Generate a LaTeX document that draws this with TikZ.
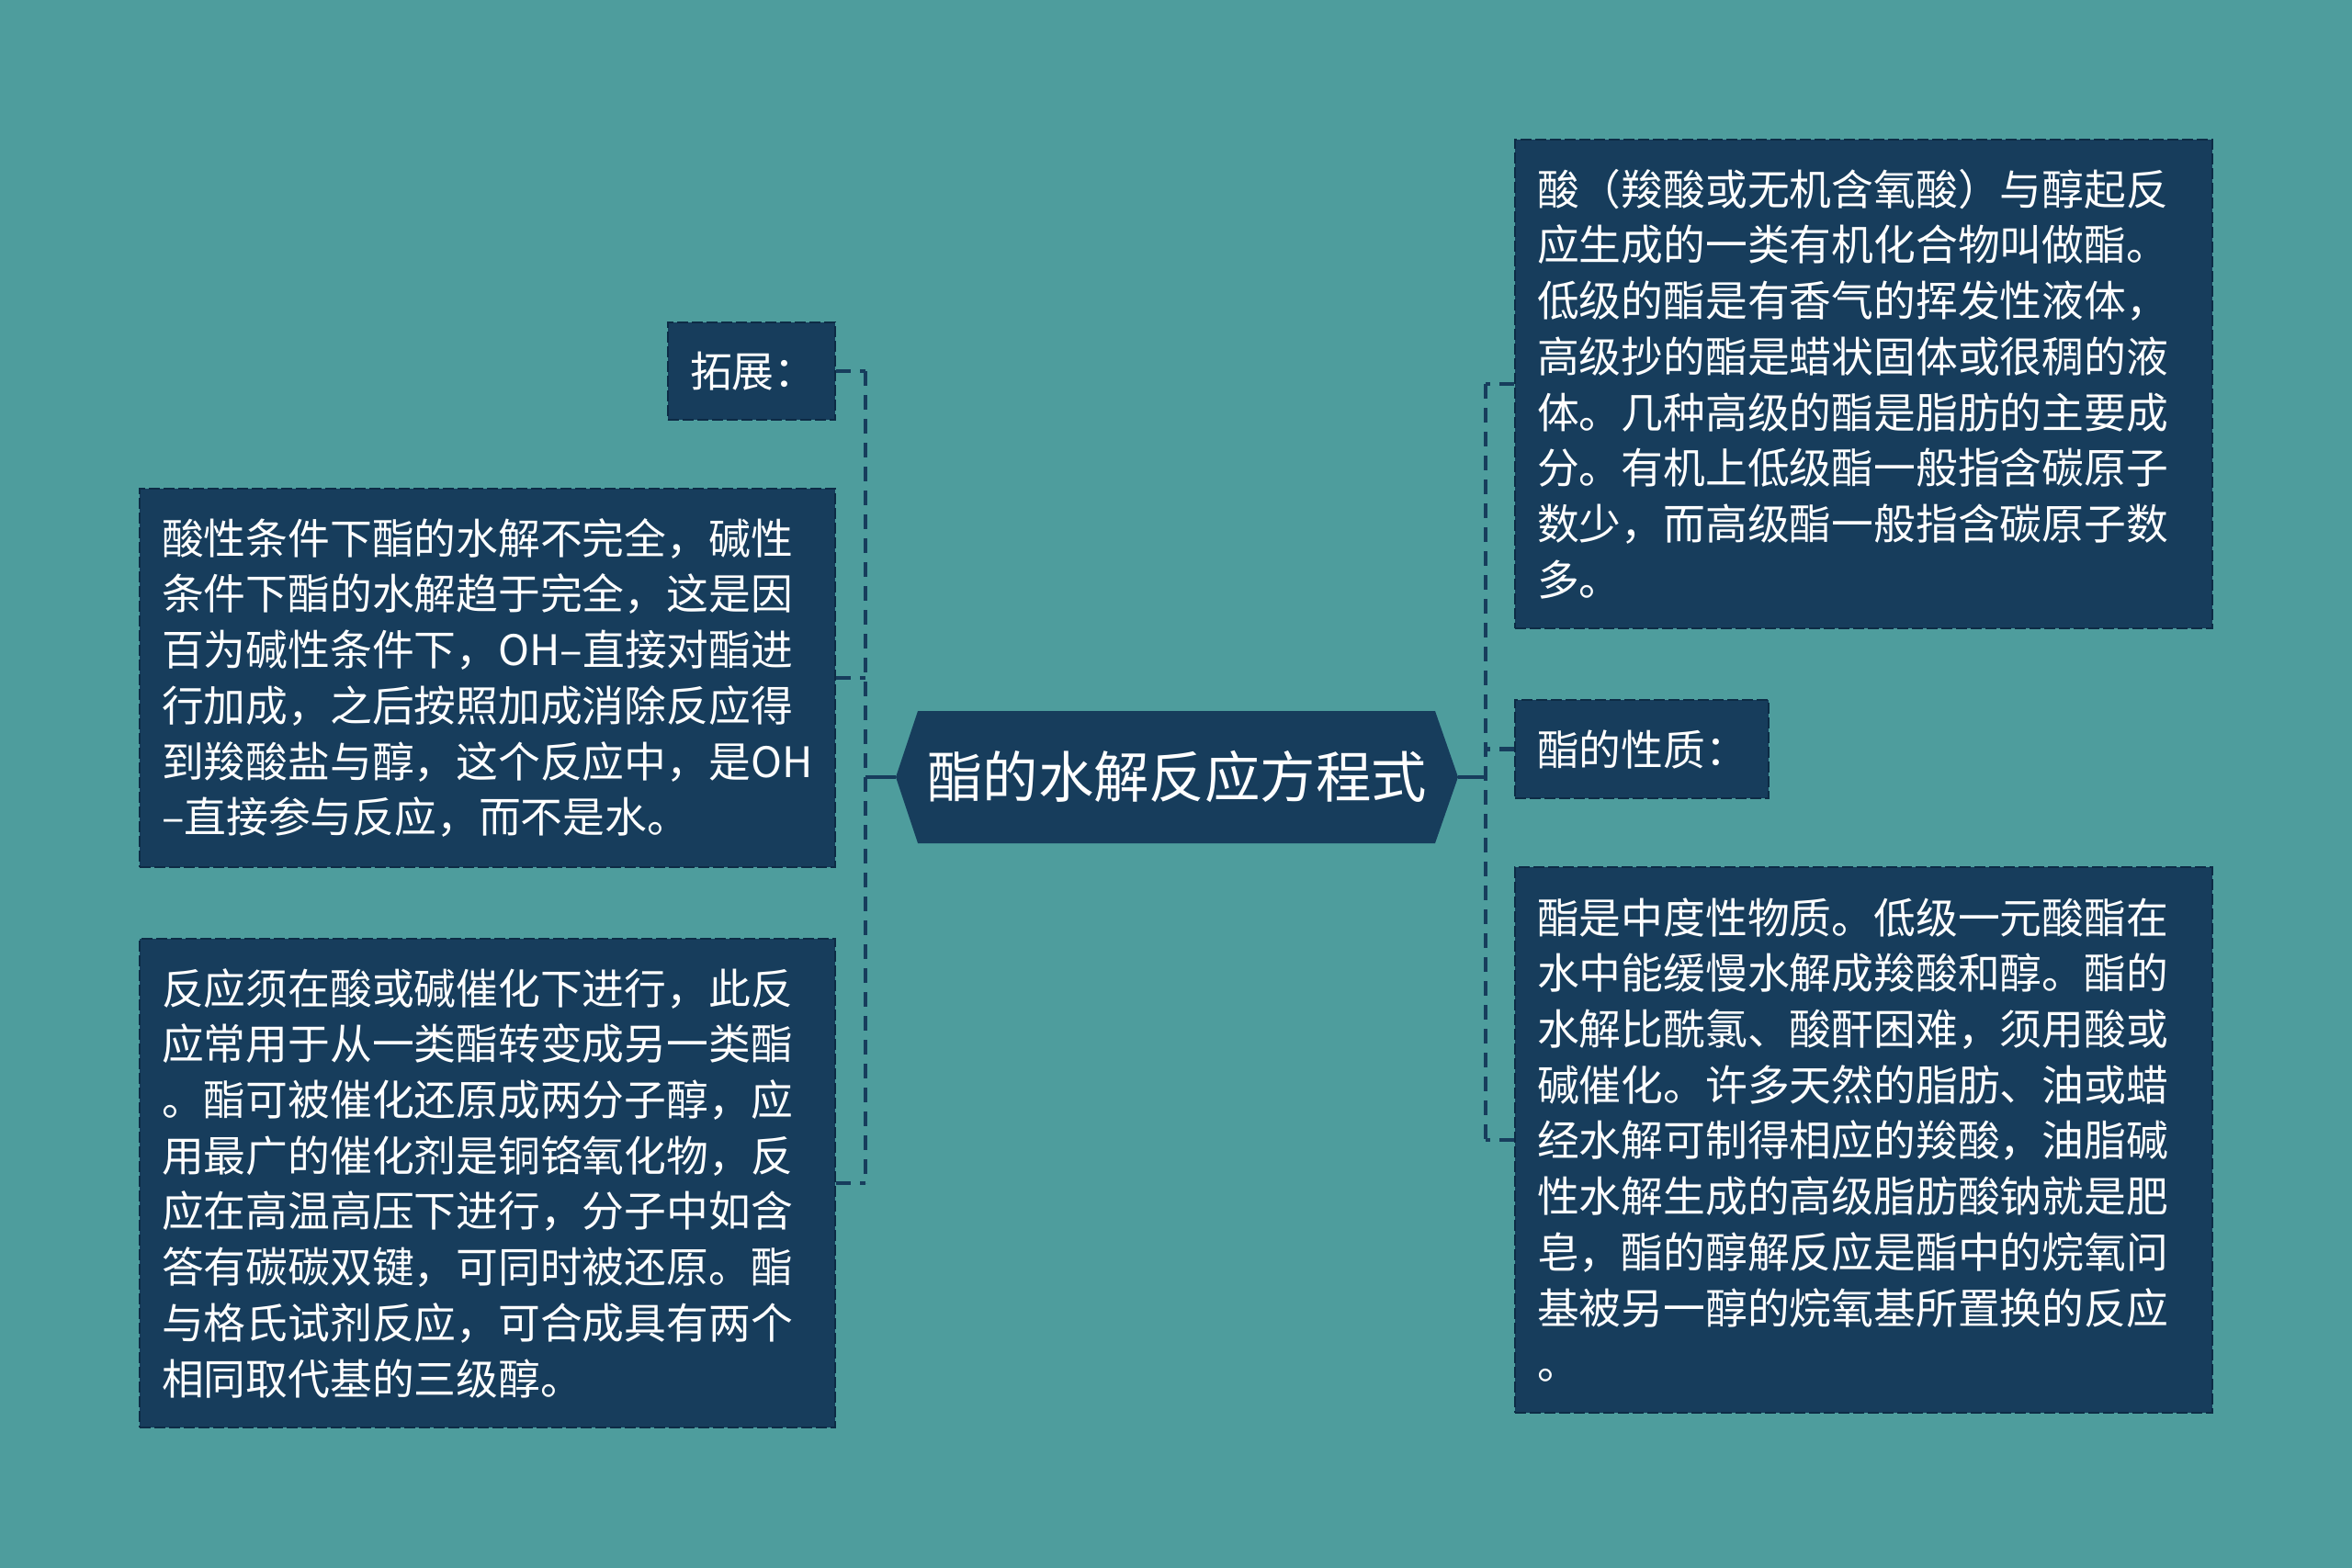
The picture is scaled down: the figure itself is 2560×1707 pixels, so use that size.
\documentclass[tikz,border=0pt]{standalone}
\usepackage{fontspec}
\setmainfont{Noto Sans CJK SC}
\usetikzlibrary{calc}
\definecolor{bgc}{RGB}{78,157,157}
\definecolor{boxc}{RGB}{23,61,92}
\definecolor{edgec}{RGB}{13,43,69}
\begin{document}
\begin{tikzpicture}[x=0.5pt,y=-0.5pt,
  box/.style={fill=boxc, draw=edgec, line width=1.1pt, dash pattern=on 6pt off 2pt,
    text=white, align=left, inner xsep=12pt, inner ysep=0pt, anchor=center,
    font=\fontsize{22.9pt}{30.35pt}\selectfont},
  bus/.style={draw=boxc, line width=2.2pt, dash pattern=on 8pt off 5pt},
  link/.style={draw=boxc, line width=2.2pt},
  centertext/.style={text=white, inner sep=0pt, font=\fontsize{30.2pt}{36pt}\selectfont}]
\fill[bgc] (0,0) rectangle (2560,1707);
\useasboundingbox (0,0) rectangle (2560,1707);

% centre node
\fill[boxc] (975,846) -- (999,774) -- (1562,774) -- (1587,846) -- (1562,918) -- (999,918) -- cycle;
\node[centertext] (c) at (1281,846) {酯的水解反应方程式};
\coordinate (cl) at (975,846);
\coordinate (cr) at (1587,846);
\coordinate (lb) at (942,846);
\coordinate (rb) at (1617,846);

% left nodes
\node[box, text width=67pt, minimum width=91pt, minimum height=53pt] (l1) at (818,404) {拓展：};
\node[box, text width=354.5pt, minimum width=378.5pt, minimum height=206pt] (l2) at (530.5,738)
{酸性条件下酯的水解不完全，碱性\\
条件下酯的水解趋于完全，这是因\\
百为碱性条件下，OH–直接对酯进\\
行加成，之后按照加成消除反应得\\
到羧酸盐与醇，这个反应中，是OH\\
–直接参与反应，而不是水。};
\node[box, text width=354.5pt, minimum width=378.5pt, minimum height=266pt] (l3) at (530.5,1288)
{反应须在酸或碱催化下进行，此反\\
应常用于从一类酯转变成另一类酯\\
。酯可被催化还原成两分子醇，应\\
用最广的催化剂是铜铬氧化物，反\\
应在高温高压下进行，分子中如含\\
答有碳碳双键，可同时被还原。酯\\
与格氏试剂反应，可合成具有两个\\
相同取代基的三级醇。};

% right nodes
\node[box, text width=355.5pt, minimum width=379.5pt, minimum height=266pt] (r1) at (2028.5,418)
{酸（羧酸或无机含氧酸）与醇起反\\
应生成的一类有机化合物叫做酯。\\
低级的酯是有香气的挥发性液体，\\
高级抄的酯是蜡状固体或很稠的液\\
体。几种高级的酯是脂肪的主要成\\
分。有机上低级酯一般指含碳原子\\
数少，而高级酯一般指含碳原子数\\
多。};
\node[box, text width=114pt, minimum width=138pt, minimum height=53.5pt] (r2) at (1787,815.5) {酯的性质：};
\node[box, text width=355.5pt, minimum width=379.5pt, minimum height=297pt] (r3) at (2028.5,1241)
{酯是中度性物质。低级一元酸酯在\\
水中能缓慢水解成羧酸和醇。酯的\\
水解比酰氯、酸酐困难，须用酸或\\
碱催化。许多天然的脂肪、油或蜡\\
经水解可制得相应的羧酸，油脂碱\\
性水解生成的高级脂肪酸钠就是肥\\
皂，酯的醇解反应是酯中的烷氧问\\
基被另一醇的烷氧基所置换的反应\\
。};

% connectors
\draw[link] (cl) -- (lb);
\draw[link] (cr) -- (rb);
\draw[bus] (l1.east -| lb) -- (l3.east -| lb);
\draw[bus] (l1.east) -- (l1.east -| lb);
\draw[bus] (l2.east) -- (l2.east -| lb);
\draw[bus] (l3.east) -- (l3.east -| lb);
\draw[bus] (r1.west -| rb) -- (r3.west -| rb);
\draw[bus] (r1.west) -- (r1.west -| rb);
\draw[bus] (r2.west) -- (r2.west -| rb);
\draw[bus] (r3.west) -- (r3.west -| rb);
\end{tikzpicture}
\end{document}
